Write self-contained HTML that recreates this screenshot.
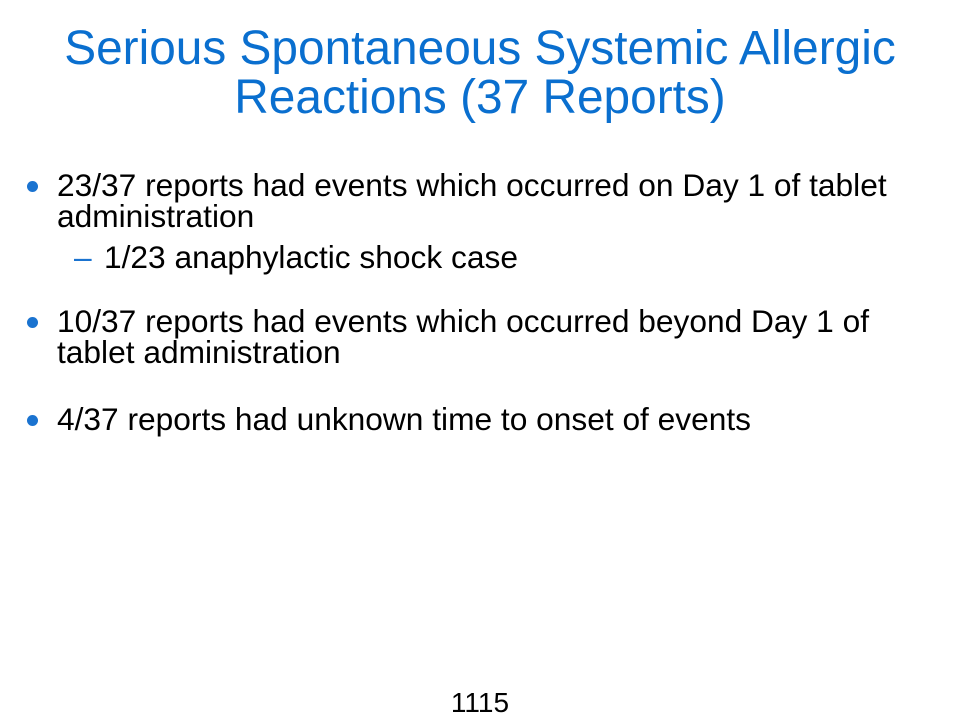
<!DOCTYPE html>
<html><head><meta charset="utf-8"><style>
body{margin:0;width:960px;height:720px;background:#fff;position:relative;overflow:hidden;font-family:"Liberation Sans",Arial,sans-serif;}
.t{position:absolute;left:0;width:960px;text-align:center;color:#0A6FCF;font-size:47.8px;line-height:49px;}
.l{position:absolute;font-size:31.7px;line-height:31px;color:#000;white-space:nowrap;}
.b{position:absolute;width:11px;height:11px;border-radius:50%;background:#1A73D0;}
.d{position:absolute;color:#1A73D0;font-size:31.7px;line-height:31px;}
</style></head><body>
<div class="t" style="top:24px">Serious Spontaneous Systemic Allergic<br>Reactions (37 Reports)</div>
<div class="b" style="left:27px;top:181px"></div>
<div class="l" style="left:57px;top:170px">23/37 reports had events which occurred on Day 1 of tablet<br>administration</div>
<div class="d" style="left:74px;top:242px">–</div>
<div class="l" style="left:104px;top:242px">1/23 anaphylactic shock case</div>
<div class="b" style="left:27px;top:317px"></div>
<div class="l" style="left:57px;top:306px">10/37 reports had events which occurred beyond Day 1 of<br>tablet administration</div>
<div class="b" style="left:27px;top:415px"></div>
<div class="l" style="left:57px;top:404px">4/37 reports had unknown time to onset of events</div>
<div class="l" style="left:0;width:960px;text-align:center;font-size:28px;line-height:32px;top:687px">1115</div>
</body></html>
